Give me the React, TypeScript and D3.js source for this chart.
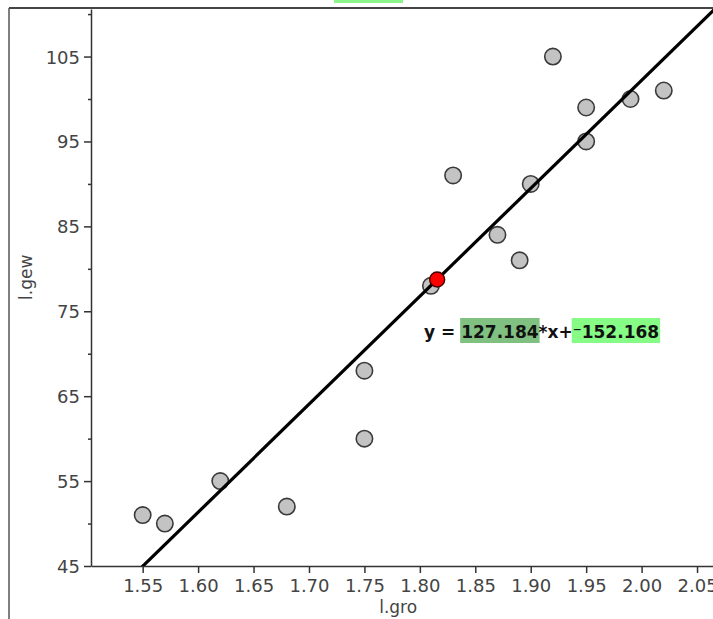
import React, { useEffect, useRef } from 'react';
import * as d3 from 'd3';

// l.gro (x) and l.gew (y) data
const groValues = [1.55, 1.57, 1.62, 1.68, 1.75, 1.75, 1.81, 1.83, 1.87, 1.89, 1.9, 1.92, 1.95, 1.95, 1.99, 2.02];
const gewValues = [51, 50, 55, 52, 68, 60, 78, 91, 84, 81, 90, 105, 99, 95, 100, 101];

// regression y = a*x + b
const slope = 127.184;
const intercept = -152.168;

const xTicks = [1.55, 1.6, 1.65, 1.7, 1.75, 1.8, 1.85, 1.9, 1.95, 2.0, 2.05];
const yTicks = [45, 55, 65, 75, 85, 95, 105];
const yMinorTicks = [50, 60, 70, 80, 90, 100, 110];

const FONT = '"DejaVu Sans", "Noto Sans", sans-serif';

export default function App() {
  const svgRef = useRef<SVGSVGElement>(null);
  const W = 713, H = 619;
  const L = 91, R = 714, T = 9, B = 566;

  useEffect(() => {
    const svg = d3.select(svgRef.current);
    svg.selectAll('*').remove();

    const x = d3.scaleLinear().domain([1.5034, 2.0653]).range([L, R]);
    const y = d3.scaleLinear().domain([45, 110.6]).range([B, T]);

    // highlight of the cut-off header above the frame
    svg.append('rect').attr('x', 334).attr('y', 0).attr('width', 69).attr('height', 3).attr('fill', '#8cf58c');

    // outer frame
    svg.append('line').attr('x1', 9).attr('x2', W).attr('y1', 8).attr('y2', 8)
      .attr('stroke', '#444').attr('stroke-width', 2);
    svg.append('line').attr('x1', 9).attr('x2', 9).attr('y1', 8).attr('y2', H)
      .attr('stroke', '#555').attr('stroke-width', 1.5);

    const g = svg.append('g');

    // x axis
    const xAxis = g.append('g').attr('transform', `translate(0,${B})`)
      .call(d3.axisBottom(x).tickValues(xTicks).tickSize(7).tickSizeOuter(0).tickPadding(6).tickFormat(d3.format('.2f')));
    xAxis.select('.domain').attr('stroke', '#333').attr('stroke-width', 1.5);
    xAxis.selectAll('.tick line').attr('stroke', '#333').attr('stroke-width', 1.5);
    xAxis.selectAll('text').attr('font-family', FONT).attr('font-size', 18).attr('fill', '#444');

    // y axis
    const yAxis = g.append('g').attr('transform', `translate(${L},0)`)
      .call(d3.axisLeft(y).tickValues(yTicks).tickSize(7).tickSizeOuter(0).tickPadding(4));
    yAxis.select('.domain').attr('stroke', '#333').attr('stroke-width', 1.5);
    yAxis.selectAll('.tick line').attr('stroke', '#333').attr('stroke-width', 1.5);
    yAxis.selectAll('text').attr('font-family', FONT).attr('font-size', 18).attr('fill', '#444').attr('dy', '0.36em');
    g.append('g').attr('transform', `translate(${L},0)`)
      .call(d3.axisLeft(y).tickValues(yMinorTicks).tickSize(3).tickFormat(() => ''))
      .call(a => a.select('.domain').remove())
      .selectAll('.tick line').attr('stroke', '#333').attr('stroke-width', 1.5);

    // axis titles
    svg.append('text').attr('x', (x(1.75) + x(1.8)) / 2 + 6).attr('y', 613)
      .attr('text-anchor', 'middle').attr('font-family', FONT).attr('font-size', 17).attr('fill', '#444')
      .text('l.gro');
    svg.append('text').attr('transform', `translate(32,${y(79)}) rotate(-90)`)
      .attr('text-anchor', 'middle').attr('font-family', FONT).attr('font-size', 17).attr('fill', '#444')
      .text('l.gew');

    // clip for plot area
    svg.append('clipPath').attr('id', 'plotclip').append('rect')
      .attr('x', L).attr('y', T).attr('width', W - L).attr('height', B - T);
    const plot = svg.append('g').attr('clip-path', 'url(#plotclip)');

    // points
    plot.selectAll('circle.pt').data(groValues.map((v, i) => [v, gewValues[i]]))
      .join('circle').attr('class', 'pt')
      .attr('cx', d => x(d[0])).attr('cy', d => y(d[1])).attr('r', 8.2)
      .attr('fill', '#c3c3c3').attr('stroke', '#3a3a3a').attr('stroke-width', 1.6);

    // regression line
    const xs = x.domain();
    plot.append('line')
      .attr('x1', x(xs[0])).attr('y1', y(slope * xs[0] + intercept))
      .attr('x2', x(xs[1])).attr('y2', y(slope * xs[1] + intercept))
      .attr('stroke', '#000').attr('stroke-width', 3.2);

    // mean point
    const mx = d3.mean(groValues) as number;
    const my = d3.mean(gewValues) as number;
    plot.append('circle').attr('cx', x(mx)).attr('cy', y(my)).attr('r', 7.5)
      .attr('fill', '#ff0000').attr('stroke', '#400').attr('stroke-width', 1.4);

    // equation label
    const ex = 424, ey = 338;
    const eq = svg.append('g').attr('font-family', FONT).attr('font-size', 17).attr('font-weight', 'bold').attr('fill', '#111');
    const parts: [string, string | null][] = [['y = ', null], ['127.184', '#80c080'], ['*x+', null], ['\u207B152.168', '#86fc86']];
    let cx = ex;
    for (const [txt, bg] of parts) {
      const t = eq.append('text').attr('x', cx).attr('y', ey).attr('xml:space', 'preserve').text(txt);
      const w = (t.node() as SVGTextElement).getComputedTextLength();
      if (bg) {
        eq.insert('rect', 'text').attr('x', cx - 1).attr('y', ey - 20).attr('width', w + 2).attr('height', 25).attr('fill', bg);
      }
      cx += w;
    }
  }, []);

  return (
    <svg ref={svgRef} width={W} height={H} viewBox={`0 0 ${W} ${H}`}
      style={{ position: 'absolute', left: 0, top: 0, background: '#fff' }} />
  );
}
